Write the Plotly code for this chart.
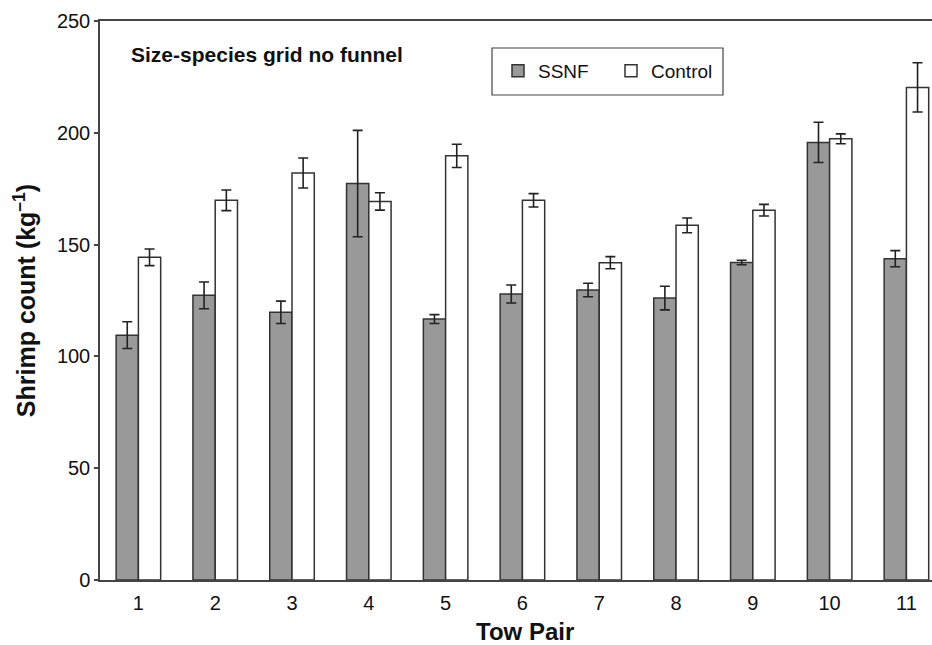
import plotly.graph_objects as go

tow_pairs = [1, 2, 3, 4, 5, 6, 7, 8, 9, 10, 11]
ssnf = [109.5, 127.3, 119.7, 177.3, 116.7, 127.9, 129.7, 126.1, 142.0, 195.7, 143.7]
ssnf_err = [6.0, 6.0, 5.0, 23.8, 2.0, 4.0, 3.0, 5.3, 1.0, 9.0, 3.6]
control = [144.3, 169.8, 182.0, 169.3, 189.7, 169.8, 141.9, 158.6, 165.4, 197.3, 220.3]
control_err = [3.7, 4.6, 6.7, 3.9, 5.2, 3.0, 2.7, 3.3, 2.6, 2.2, 11.0]
y_ticks = [0, 50, 100, 150, 200, 250]

FONT = "Liberation Sans, Arial, sans-serif"
EDGE = "#333333"

W, H = 932, 645
ML, MR, MT, MB = 100, 0, 21, 65
PW, PH = W - ML - MR, H - MT - MB


def px(xw):
    return (xw - ML) / PW


def py(yw):
    return (H - MB - yw) / PH


fig = go.Figure()
fig.add_trace(go.Bar(
    x=tow_pairs, y=ssnf, name="SSNF",
    marker=dict(color="#999999", line=dict(color=EDGE, width=1.5)),
    error_y=dict(type="data", array=ssnf_err, visible=True, color="#222222", thickness=1.6, width=5),
))
fig.add_trace(go.Bar(
    x=tow_pairs, y=control, name="Control",
    marker=dict(color="#ffffff", line=dict(color=EDGE, width=1.5)),
    error_y=dict(type="data", array=control_err, visible=True, color="#222222", thickness=1.6, width=5),
))

fig.update_layout(
    width=W, height=H,
    margin=dict(l=ML, r=MR, t=MT, b=MB, autoexpand=False),
    paper_bgcolor="white", plot_bgcolor="white",
    barmode="group", bargap=0.42, bargroupgap=0,
    font=dict(family=FONT, color="#111111"),
    showlegend=True,
    legend=dict(
        orientation="h", x=px(498), y=py(52), xanchor="left", yanchor="top",
        borderwidth=0, bgcolor="rgba(0,0,0,0)",
        font=dict(size=19, family=FONT, color="#111111"),
        entrywidth=68, entrywidthmode="pixels",
        itemclick=False, itemdoubleclick=False,
    ),
    shapes=[
        dict(type="rect", xref="paper", yref="paper",
             x0=px(492), x1=px(723), y0=py(95), y1=py(48),
             line=dict(color="#444444", width=1.2), fillcolor="white", layer="above"),
    ],
    xaxis=dict(
        range=[0.5, 11.333], tickmode="array", tickvals=tow_pairs,
        ticktext=[str(t) for t in tow_pairs],
        showline=True, linecolor="#444444", linewidth=1.5, mirror=True,
        ticks="", showgrid=False, zeroline=False,
        tickfont=dict(size=20, family=FONT, color="#111111"),
        ticklabelstandoff=4,
    ),
    yaxis=dict(
        range=[0, 250], tickmode="array", tickvals=y_ticks,
        showline=True, linecolor="#444444", linewidth=1.5,
        ticks="outside", ticklen=4, tickcolor="#444444", tickwidth=1.5,
        showgrid=False, zeroline=False,
        tickfont=dict(size=20, family=FONT, color="#111111"),
        title=dict(text="<b>Shrimp count (kg<sup>–1</sup>)</b>",
                   font=dict(size=25, family=FONT, color="#111111"), standoff=14),
    ),
    annotations=[
        dict(text="<b>Size-species grid no funnel</b>", xref="paper", yref="paper",
             x=px(129), y=py(55), xanchor="left", yanchor="middle", showarrow=False,
             font=dict(size=21, family=FONT, color="#111111")),
        dict(text="<b>Tow Pair</b>", xref="x", yref="paper",
             x=6.03, y=py(616), xanchor="center", yanchor="top", showarrow=False,
             font=dict(size=24, family=FONT, color="#111111")),
    ],
)

fig.write_html(
    "out.html",
    config={"displayModeBar": False},
    post_script="document.body.style.margin='0';document.body.style.overflow='hidden';",
)
